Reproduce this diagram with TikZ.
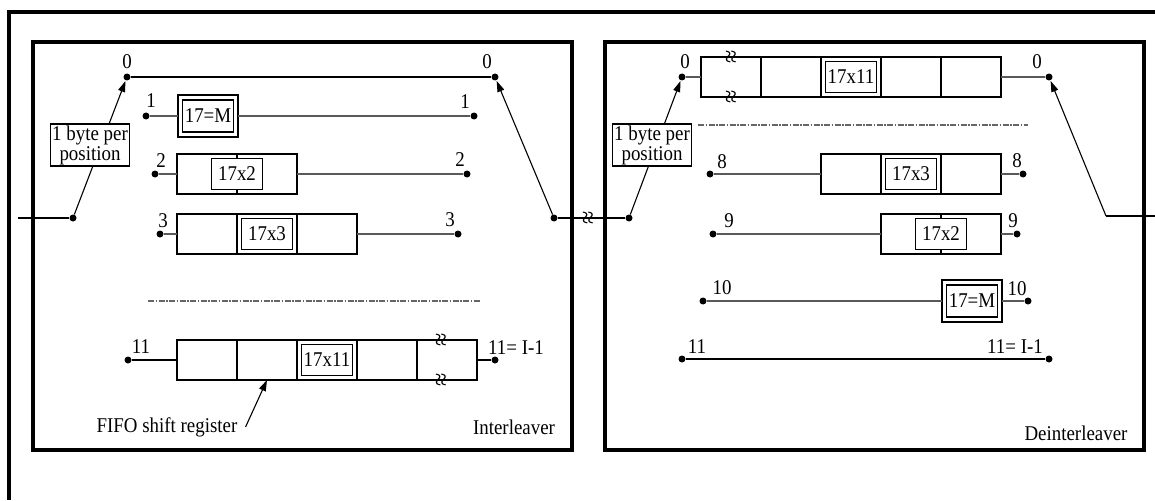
\documentclass[tikz,border=0pt]{standalone}
\usepackage{fontspec}
\setmainfont{Liberation Serif}[FakeStretch=0.9]
\usetikzlibrary{arrows.meta,positioning}

\begin{document}
\begin{tikzpicture}[x=1pt,y=-1pt,>={Triangle[length=11pt,width=7pt]},
font=\fontsize{21pt}{20pt}\selectfont,node distance=0pt,
dot node/.style={circle,fill,inner sep=0pt,minimum size=7pt},
cell node/.style={rectangle,draw,line width=1.2pt,outer sep=0pt,inner sep=0pt,minimum width=60pt,minimum height=40pt},
tag node/.style={rectangle,draw,fill=white,line width=1.2pt,inner sep=2pt,minimum width=51pt,minimum height=31pt},
num node/.style={inner sep=0pt},
byte node/.style={rectangle,draw,fill=white,line width=1.2pt,align=center,inner sep=1.5pt},
brk node/.style={inner sep=0pt,rotate=90,font=\fontsize{27pt}{27pt}\selectfont},
wire/.style={line width=1.1pt,black!65},
arm/.style={->,line width=1.1pt,shorten >=0.5pt},
dots line/.style={line width=1.2pt,black!60,dash pattern=on 6pt off 1.5pt on 1.5pt off 1.5pt},
frame/.style={line width=3.2pt}]

\useasboundingbox (0,0) rectangle (1155,500);

% frames
\draw[frame] (9,500) -- (9,12) -- (1155,12);
\draw[frame] (33,42) rectangle (572,450);
\draw[frame] (605,42) rectangle (1144,450);

% ---------------- interleaver ----------------
\coordinate (in) at (18,218);
\node[dot node] (sa) at (73,218) {};
\node[dot node] (d0a) at (127,77) {};
\node[dot node] (d0b) at (495,77) {};
\node[dot node] (sb) at (554,218) {};

\draw[line width=1.1pt] (in) -- (sa);
\draw[arm] (sa) -- (d0a);
\draw[wire,black] (d0a) -- (d0b);
\draw[arm] (sb) -- (d0b);
\node[byte node] (bytea) at (90,145) {1 byte per\\position};

% branch 1
\node[dot node] (d1a) at (146,116) {};
\node[cell node,minimum height=42pt] (m1) at (208,116) {};
\node[tag node,minimum width=50pt,minimum height=32pt] (t1) at (m1) {17=M};
\node[dot node] (d1b) at (474,116) {};
\draw[wire] (d1a) -- (m1) (m1) -- (d1b);

% branch 2
\node[dot node] (d2a) at (155,174) {};
\node[cell node] (c2a) at (207,174) {};
\node[cell node] (c2b) [right=of c2a] {};
\node[tag node] (t2) at (c2a.east) {17x2};
\node[dot node] (d2b) at (467,174) {};
\draw[wire] (d2a) -- (c2a) (c2b) -- (d2b);

% branch 3
\node[dot node] (d3a) at (160,234) {};
\node[cell node] (c3a) at (207,234) {};
\node[cell node] (c3b) [right=of c3a] {};
\node[cell node] (c3c) [right=of c3b] {};
\node[tag node] (t3) at (c3b) {17x3};
\node[dot node] (d3b) at (458,234) {};
\draw[wire] (d3a) -- (c3a) (c3c) -- (d3b);

\draw[dots line] (148,301) -- (480,301);

% branch 11
\node[dot node] (d11a) at (128,360) {};
\node[cell node] (c11a) at (207,360) {};
\node[cell node] (c11b) [right=of c11a] {};
\node[cell node] (c11c) [right=of c11b] {};
\node[cell node] (c11d) [right=of c11c] {};
\node[cell node] (c11e) [right=of c11d] {};
\node[tag node] (t11) at (c11c) {17x11};
\node[brk node] (k1) at ([xshift=-4pt]c11e.north) {≈};
\node[brk node] (k2) at ([xshift=-4pt]c11e.south) {≈};
\node[dot node] (d11b) at (495,360) {};
\draw[wire,black] (d11a) -- (c11a) (c11e) -- (d11b);

% numbers
\node[num node] (n0a) at (127,62) {0};
\node[num node] (n0b) at (487,62) {0};
\node[num node] (n1a) at (151,101) {1};
\node[num node] (n1b) at (465,102) {1};
\node[num node] (n2a) at (161,161) {2};
\node[num node] (n2b) at (460,160) {2};
\node[num node] (n3a) at (163,221) {3};
\node[num node] (n3b) at (450,220) {3};
\node[num node] (n11a) at (141,347) {11};
\node[num node] (n11b) at (516,348) {11= I-1};

\node[num node] (fifo) at (167,427) {FIFO shift register};
\draw[->,line width=1.1pt] ([xshift=8pt]fifo.east) -- (c11b.south);
\node[num node] (ilv) at (514,427) {Interleaver};

% link between the two
\node[dot node] (sc) at (629,218) {};
\draw[line width=1.1pt] (sb) -- (sc);
\node[brk node] (k0) at (590,218) {≈};

% ---------------- deinterleaver ----------------
\node[dot node] (d0c) at (682,77) {};
\node[dot node] (d0d) at (1049,77) {};
\coordinate (so) at (1106,216);
\coordinate (out) at (1155,216);
\draw[arm] (sc) -- (d0c);
\draw[arm] (so) -- (d0d);
\draw[line width=1.1pt] (so) -- (out);
\node[byte node] (byteb) at (652,145) {1 byte per\\position};

% branch 0
\node[cell node] (r0a) at (731,77) {};
\node[cell node] (r0b) [right=of r0a] {};
\node[cell node] (r0c) [right=of r0b] {};
\node[cell node] (r0d) [right=of r0c] {};
\node[cell node] (r0e) [right=of r0d] {};
\node[tag node] (u0) at (r0c) {17x11};
\node[brk node] (k3) at ([xshift=2pt]r0a.north) {≈};
\node[brk node] (k4) at ([xshift=2pt]r0a.south) {≈};
\draw[wire] (d0c) -- (r0a) (r0e) -- (d0d);

\draw[dots line] (698,125) -- (1028,125);

% branch 8
\node[dot node] (d8a) at (710,174) {};
\node[cell node] (r8a) at (851,174) {};
\node[cell node] (r8b) [right=of r8a] {};
\node[cell node] (r8c) [right=of r8b] {};
\node[tag node] (u8) at (r8b) {17x3};
\node[dot node] (d8b) at (1023,174) {};
\draw[wire] (d8a) -- (r8a) (r8c) -- (d8b);

% branch 9
\node[dot node] (d9a) at (713,234) {};
\node[cell node] (r9a) at (911,234) {};
\node[cell node] (r9b) [right=of r9a] {};
\node[tag node] (u9) at (r9a.east) {17x2};
\node[dot node] (d9b) at (1017,234) {};
\draw[wire] (d9a) -- (r9a) (r9b) -- (d9b);

% branch 10
\node[dot node] (d10a) at (703,301) {};
\node[cell node,minimum height=42pt] (m10) at (972,301) {};
\node[tag node,minimum width=50pt,minimum height=32pt] (u10) at (m10) {17=M};
\node[dot node] (d10b) at (1028,301) {};
\draw[wire] (d10a) -- (m10) (m10) -- (d10b);

% branch 11
\node[dot node] (d11c) at (682,359) {};
\node[dot node] (d11d) at (1049,359) {};
\draw[wire,black] (d11c) -- (d11d);

% numbers
\node[num node] (n0c) at (685,62) {0};
\node[num node] (n0d) at (1037,62) {0};
\node[num node] (n8a) at (722,162) {8};
\node[num node] (n8b) at (1017,161) {8};
\node[num node] (n9a) at (729,221) {9};
\node[num node] (n9b) at (1013,221) {9};
\node[num node] (n10a) at (722,288) {10};
\node[num node] (n10b) at (1017,289) {10};
\node[num node] (n11c) at (697,347) {11};
\node[num node] (n11d) at (1015,347) {11= I-1};

\node[num node] (dlv) at (1076,433) {Deinterleaver};
\end{tikzpicture}
\end{document}
